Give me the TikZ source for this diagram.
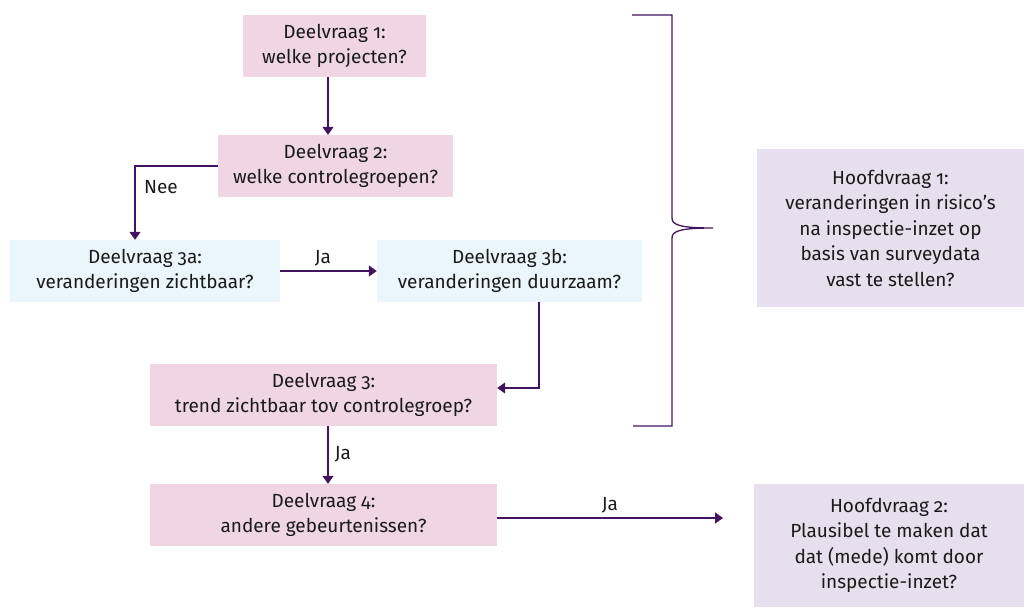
\documentclass[tikz,border=0pt]{standalone}
\usepackage{fontspec}
\setmainfont{Fira Sans}[Numbers=OldStyle]
\usetikzlibrary{arrows.meta,calc}
\definecolor{pinkbox}{HTML}{F0D5E3}
\definecolor{bluebox}{HTML}{EBF5FC}
\definecolor{lavbox}{HTML}{E5DFEE}
\definecolor{purp}{HTML}{42145F}
\definecolor{txt}{HTML}{1A1A1A}
\tikzset{
  box/.style={rectangle, inner sep=0pt, align=center, text=txt,
    font=\fontsize{19}{25.5}\selectfont},
  pbox/.style={box, fill=pinkbox},
  bbox/.style={box, fill=bluebox},
  lbox/.style={box, fill=lavbox},
  arr/.style={draw=purp, line width=1.3pt, -{Triangle[width=11pt,length=8pt]}},
  lbl/.style={text=txt, font=\fontsize{19}{20}\selectfont, inner sep=0pt},
  brace/.style={draw=purp, line width=1.3pt}
}
\begin{document}
\begin{tikzpicture}[x=1pt,y=-1pt]
\useasboundingbox (0,0) rectangle (1024,607);
% boxes
\node[pbox, minimum width=183pt, minimum height=62pt] (b1) at (334.5,46) {Deelvraag 1:\\welke projecten?};
\node[pbox, minimum width=235pt, minimum height=62pt] (b2) at (335.5,166) {Deelvraag 2:\\welke controlegroepen?};
\node[bbox, minimum width=270pt, minimum height=62pt] (b3a) at (145,271) {Deelvraag 3a:\\veranderingen zichtbaar?};
\node[bbox, minimum width=265pt, minimum height=62pt] (b3b) at (509.5,271) {Deelvraag 3b:\\veranderingen duurzaam?};
\node[pbox, minimum width=347pt, minimum height=62pt] (b3) at (323.5,395) {Deelvraag 3:\\trend zichtbaar tov controlegroep?};
\node[pbox, minimum width=347pt, minimum height=62pt] (b4) at (323.5,515) {Deelvraag 4:\\andere gebeurtenissen?};
\node[lbox, minimum width=267pt, minimum height=158pt] (h1) at (890.5,228) {Hoofdvraag 1:\\veranderingen in risico’s\\na inspectie-inzet op\\basis van surveydata\\vast te stellen?};
\node[lbox, minimum width=270pt, minimum height=123pt] (h2) at (889,545.5) {Hoofdvraag 2:\\Plausibel te maken dat\\dat (mede) komt door\\inspectie-inzet?};
% connectors
\draw[arr] (b1.south -| 328,0) -- (b2.north -| 328,0);
\draw[arr] (b2.west) -| ($(b3a.north)+(-10,0)$);
\node[lbl] (nee) at (161,187) {Nee};
\draw[arr] (b3a.east) -- (b3b.west);
\node[lbl] (ja1) at (323,258) {Ja};
\coordinate (c3b) at (539,0);
\draw[arr] (b3b.south -| c3b) |- ($(b3.east)+(0,-7)$);
\draw[arr] (b3.south -| 328,0) -- (b4.north -| 328,0);
\node[lbl] (ja2) at (343,454) {Ja};
\coordinate (end4) at (723,518);
\draw[arr] (b4.east |- end4) -- (end4);
\node[lbl] (ja3) at (610,505) {Ja};
% brace
\coordinate (bt) at (632,15);
\coordinate (bb) at (633,426);
\coordinate (tip) at (713,228);
\draw[brace] (bt) -- (672,15) -- (672,218) .. controls (672,225) and (680,228) .. (tip)
  .. controls (680,228) and (672,231) .. (672,238) -- (672,426) -- (bb);
\end{tikzpicture}
\end{document}
